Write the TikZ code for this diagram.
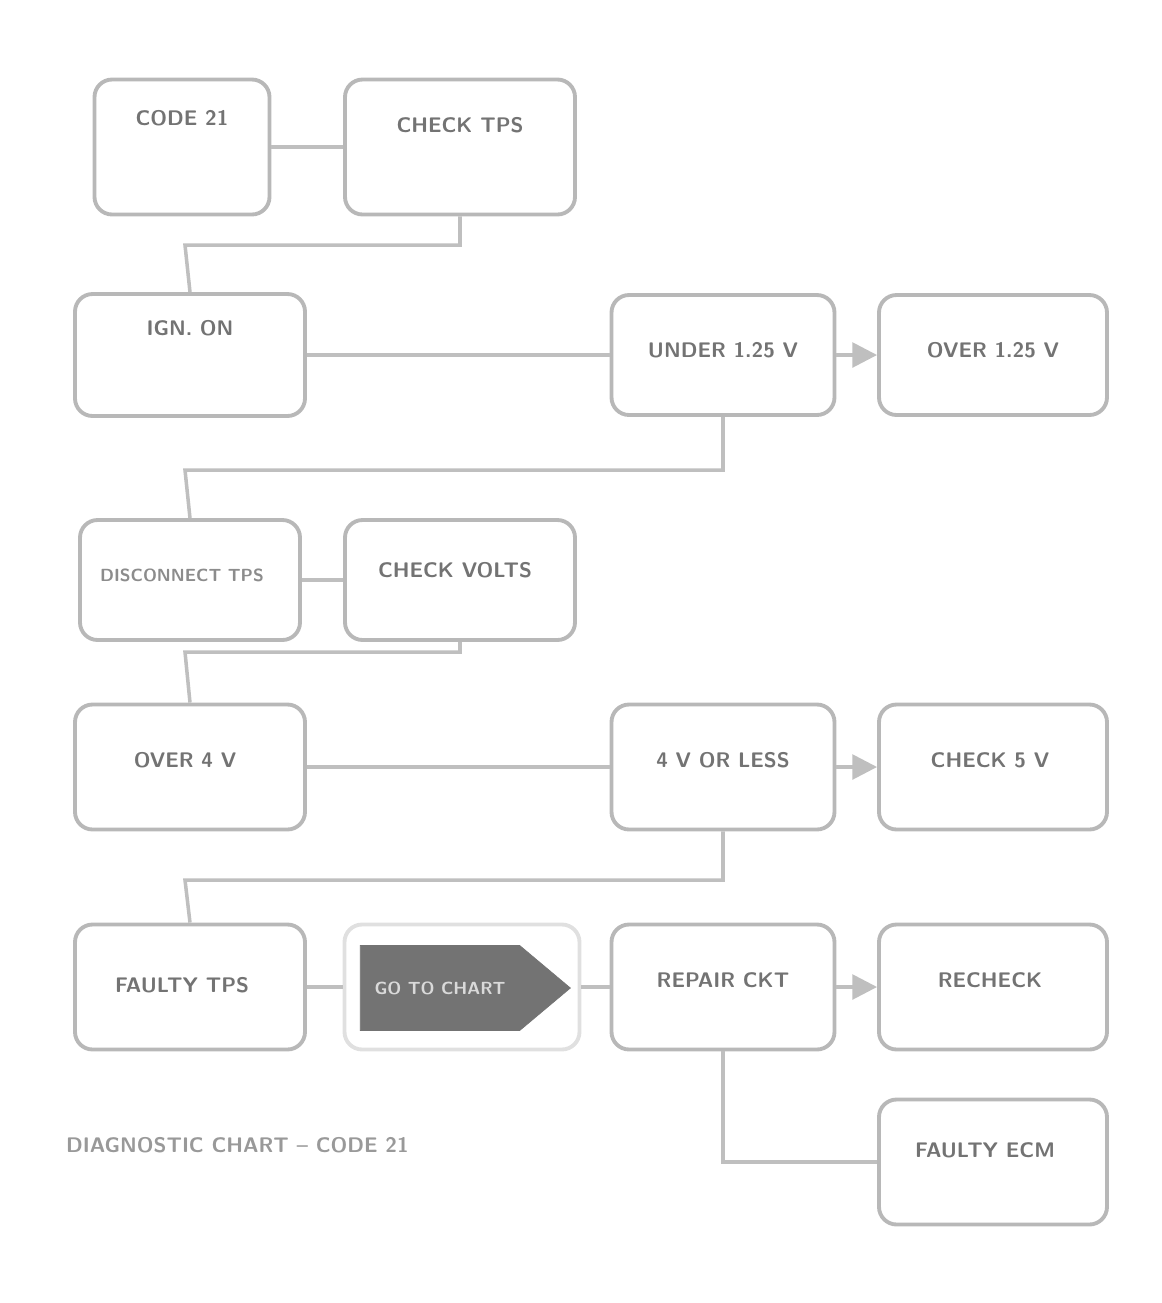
\documentclass[tikz,border=0pt]{standalone}
\usetikzlibrary{shapes.symbols,arrows.meta}
\begin{document}
\begin{tikzpicture}[x=0.02cm,y=-0.02cm,
  box/.style={draw=black!28,line width=2.2pt,rounded corners=10pt,fill=white,inner sep=0pt},
  txt/.style={font=\sffamily\bfseries\large,text=black!55,align=center},
  smalltxt/.style={font=\sffamily\bfseries\normalsize,text=black!45,align=center},
  line/.style={draw=black!25,line width=2pt},
  arr/.style={line,-{Triangle[length=14pt,width=14pt]}}]
\useasboundingbox (0,0) rectangle (1162,1303);
% row 1
\node[box,minimum width=175*0.02cm,minimum height=135*0.02cm] (A) at (182,147) {};
\node[txt] (At) at (182,118) {CODE 21};
\node[box,minimum width=230*0.02cm,minimum height=135*0.02cm] (B) at (460,147) {};
\node[txt] (Bt) at (460,125) {CHECK TPS};
% row 2
\node[box,minimum width=230*0.02cm,minimum height=122*0.02cm] (C) at (190,355) {};
\node[txt] (Ct) at (190,328) {IGN. ON};
\node[box,minimum width=223*0.02cm,minimum height=120*0.02cm] (D) at (723,355) {};
\node[txt] (Dt) at (723,350) {UNDER 1.25 V};
\node[box,minimum width=228*0.02cm,minimum height=120*0.02cm] (E) at (993,355) {};
\node[txt] (Et) at (993,350) {OVER 1.25 V};
% row 3
\node[box,minimum width=220*0.02cm,minimum height=120*0.02cm] (F) at (190,580) {};
\node[smalltxt] (Ft) at (182,575) {DISCONNECT TPS};
\node[box,minimum width=230*0.02cm,minimum height=120*0.02cm] (G) at (460,580) {};
\node[txt] (Gt) at (455,570) {CHECK VOLTS};
% row 4
\node[box,minimum width=230*0.02cm,minimum height=125*0.02cm] (H) at (190,767) {};
\node[txt] (Ht) at (185,760) {OVER 4 V};
\node[box,minimum width=223*0.02cm,minimum height=125*0.02cm] (I) at (723,767) {};
\node[txt] (It) at (723,760) {4 V OR LESS};
\node[box,minimum width=228*0.02cm,minimum height=125*0.02cm] (J) at (993,767) {};
\node[txt] (Jt) at (990,760) {CHECK 5 V};
% row 5
\node[box,minimum width=230*0.02cm,minimum height=125*0.02cm] (K) at (190,987) {};
\node[txt] (Kt) at (182,985) {FAULTY TPS};
\node[box,draw=black!12,minimum width=235*0.02cm,minimum height=125*0.02cm] (L0) at (462,987) {};
\node[shape=signal,signal to=east,signal pointer angle=80,fill=black!55,draw=black!55,
      minimum width=210*0.02cm,minimum height=85*0.02cm,inner sep=0pt,
      font=\sffamily\bfseries\normalsize,text=white!85!black] (L) at (440,988) {GO TO CHART};
\node[box,minimum width=223*0.02cm,minimum height=125*0.02cm] (M) at (723,987) {};
\node[txt] (Mt) at (723,980) {REPAIR CKT};
\node[box,minimum width=228*0.02cm,minimum height=125*0.02cm] (N) at (993,987) {};
\node[txt] (Nt) at (990,980) {RECHECK};
\node[box,minimum width=228*0.02cm,minimum height=125*0.02cm] (O) at (993,1162) {};
\node[txt] (Ot) at (985,1150) {FAULTY ECM};
% caption
\node[font=\sffamily\bfseries\large,text=black!40,anchor=west] (cap) at (60,1145) {DIAGNOSTIC CHART -- CODE 21};
% connectors
\coordinate (k1) at (185,245);
\coordinate (k2) at (185,470);
\coordinate (k3) at (185,652);
\coordinate (k4) at (185,880);
\draw[line] (A.east) -- (B.west);
\draw[line] (B.south) |- (k1) -- (C.north);
\draw[line] (C.east) -- (D.west);
\draw[arr] (D.east) -- (E.west);
\draw[line] (D.south) |- (k2) -- (F.north);
\draw[line] (F.east) -- (G.west);
\draw[line] (G.south) |- (k3) -- (H.north);
\draw[line] (H.east) -- (I.west);
\draw[arr] (I.east) -- (J.west);
\draw[line] (I.south) |- (k4) -- (K.north);
\draw[line] (K.east) -- (L0.west);
\draw[line] (L0.east) -- (M.west);
\draw[arr] (M.east) -- (N.west);
\draw[line] (M.south) |- (O.west);
\end{tikzpicture}
\end{document}
